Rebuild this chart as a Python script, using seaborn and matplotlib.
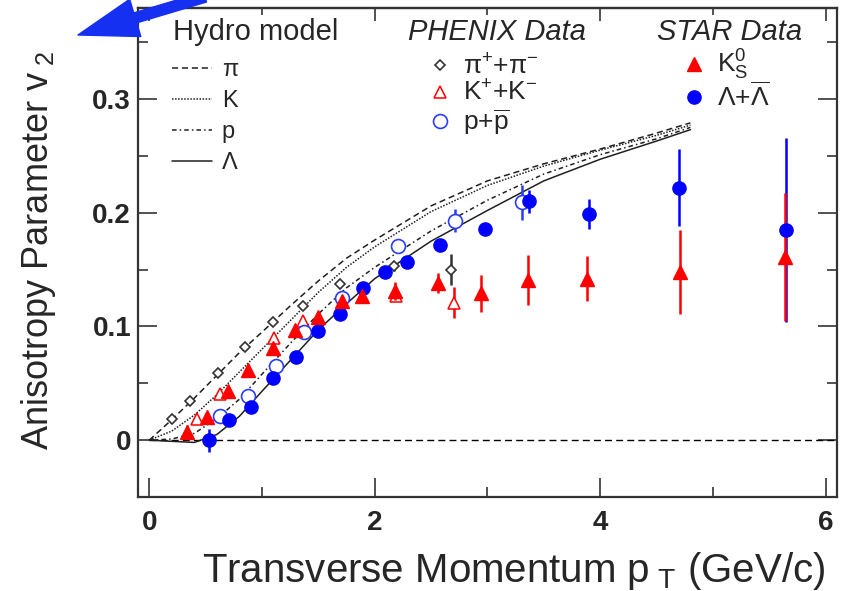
import matplotlib
matplotlib.use("Agg")
import matplotlib.pyplot as plt
import seaborn as sns
from matplotlib.lines import Line2D
from matplotlib.patches import FancyArrowPatch
from matplotlib.ticker import FixedLocator, FixedFormatter

# hydro model curves
pt_hydro = [0.0, 0.2, 0.4, 0.6, 0.8, 1.0, 1.25, 1.5, 1.75, 2.0, 2.5, 3.0, 3.5, 4.0, 4.5, 4.8]
hydro_pi = [0.000, 0.018, 0.037, 0.057, 0.077, 0.095, 0.118, 0.140, 0.160, 0.176, 0.206, 0.228, 0.243, 0.256, 0.270, 0.279]
hydro_k = [0.000, 0.008, 0.022, 0.040, 0.060, 0.080, 0.105, 0.130, 0.152, 0.170, 0.201, 0.224, 0.241, 0.255, 0.268, 0.277]
hydro_p = [0.000, 0.001, 0.006, 0.019, 0.036, 0.058, 0.085, 0.111, 0.134, 0.152, 0.184, 0.211, 0.234, 0.251, 0.265, 0.275]
hydro_lam = [0.000, -0.001, -0.002, 0.005, 0.021, 0.043, 0.070, 0.097, 0.120, 0.142, 0.175, 0.202, 0.228, 0.247, 0.263, 0.273]

# PHENIX data
pt_pi = [0.20, 0.36, 0.61, 0.85, 1.10, 1.36, 1.69, 2.17, 2.68]
v2_pi = [0.019, 0.034, 0.059, 0.082, 0.104, 0.118, 0.137, 0.153, 0.150]
err_pi = [0.002, 0.002, 0.002, 0.002, 0.002, 0.002, 0.003, 0.004, 0.014]

pt_k = [0.42, 0.63, 1.11, 1.36, 2.19, 2.70]
v2_k = [0.019, 0.041, 0.090, 0.105, 0.127, 0.121]
err_k = [0.002, 0.002, 0.003, 0.003, 0.005, 0.014]

pt_p = [0.625, 0.88, 1.12, 1.37, 1.71, 2.21, 2.71, 3.31]
v2_p = [0.021, 0.039, 0.065, 0.095, 0.125, 0.171, 0.193, 0.209]
err_p = [0.002, 0.002, 0.003, 0.003, 0.004, 0.005, 0.010, 0.015]

# STAR data
pt_k0s = [0.335, 0.515, 0.70, 0.88, 1.10, 1.29, 1.50, 1.71, 1.89, 2.18, 2.56, 2.94, 3.36, 3.88, 4.71, 5.64]
v2_k0s = [0.007, 0.020, 0.043, 0.062, 0.081, 0.097, 0.108, 0.122, 0.127, 0.131, 0.138, 0.129, 0.141, 0.142, 0.148, 0.161]
err_k0s = [0.006, 0.003, 0.003, 0.003, 0.003, 0.003, 0.004, 0.004, 0.004, 0.008, 0.009, 0.016, 0.022, 0.020, 0.037, 0.056]

pt_lam = [0.53, 0.71, 0.905, 1.10, 1.30, 1.50, 1.69, 1.90, 2.09, 2.29, 2.575, 2.98, 3.37, 3.90, 4.70, 5.65]
v2_lam = [0.000, 0.018, 0.029, 0.055, 0.073, 0.096, 0.111, 0.134, 0.148, 0.157, 0.172, 0.186, 0.210, 0.199, 0.222, 0.185]
err_lam = [0.010, 0.003, 0.003, 0.003, 0.003, 0.003, 0.003, 0.003, 0.003, 0.004, 0.004, 0.005, 0.010, 0.013, 0.034, 0.081]

x_ticks = [0, 2, 4, 6]
x_tick_labels = ["0", "2", "4", "6"]
y_ticks = [0.0, 0.1, 0.2, 0.3]
y_tick_labels = ["0", "0.1", "0.2", "0.3"]

sns.set_theme(style="ticks")
plt.rcParams["font.family"] = ["Liberation Sans", "DejaVu Sans"]
plt.rcParams["mathtext.fontset"] = "custom"
plt.rcParams["mathtext.rm"] = "Liberation Sans"
plt.rcParams["mathtext.it"] = "Liberation Sans:italic"
plt.rcParams["mathtext.bf"] = "Liberation Sans:bold"

fig = plt.figure(figsize=(8.48, 5.91), dpi=100)
ax = fig.add_axes([0.1627, 0.159, 0.8243, 0.8275])

# hydro curves
hydro_styles = [
    (hydro_pi, (0, (4, 2.5))),
    (hydro_k, (0, (1, 1))),
    (hydro_p, (0, (3, 2, 1, 2))),
    (hydro_lam, "-"),
]
for vals, ls in hydro_styles:
    sns.lineplot(x=pt_hydro, y=vals, ax=ax, color="#202020", linewidth=1.1,
                 linestyle=ls, sort=False, estimator=None)

ax.hlines(0, 0, 6.1, colors="black", linestyles=(0, (5, 3)), linewidth=1.0, zorder=1)

# PHENIX (open markers)
ax.errorbar(pt_pi, v2_pi, yerr=err_pi, fmt="D", ms=5.5, mfc="white", mec="#333333",
            mew=1.2, color="#333333", elinewidth=1.8, capsize=0, zorder=3)
ax.errorbar(pt_k, v2_k, yerr=err_k, fmt="^", ms=9, mfc="white", mec="red",
            mew=1.1, color="red", elinewidth=1.8, capsize=0, zorder=3)
ax.errorbar(pt_p, v2_p, yerr=err_p, fmt="o", ms=10, mfc="white", mec="#2a3cf5",
            mew=1.2, color="#2a3cf5", elinewidth=1.8, capsize=0, zorder=3)

# STAR (filled markers)
ax.errorbar(pt_lam, v2_lam, yerr=err_lam, fmt="o", ms=9.5, color="blue",
            elinewidth=1.8, capsize=0, zorder=4)
ax.errorbar(pt_k0s, v2_k0s, yerr=err_k0s, fmt="^", ms=9.5, color="red",
            elinewidth=1.8, capsize=0, zorder=4)

ax.set_xlim(-0.1, 6.1)
ax.set_ylim(-0.05, 0.38)

ax.xaxis.set_major_locator(FixedLocator(x_ticks))
ax.xaxis.set_major_formatter(FixedFormatter(x_tick_labels))
ax.xaxis.set_minor_locator(FixedLocator([1, 3, 5]))
ax.yaxis.set_major_locator(FixedLocator(y_ticks))
ax.yaxis.set_major_formatter(FixedFormatter(y_tick_labels))
ax.yaxis.set_minor_locator(FixedLocator([0.05, 0.15, 0.25, 0.35]))

ax.tick_params(axis="both", which="both", direction="in", width=1.2, color="#333333",
               bottom=True, left=True, right=True, top=False)
ax.tick_params(axis="both", which="major", length=14)
ax.tick_params(axis="both", which="minor", length=7)
ax.tick_params(axis="x", which="major", pad=9, labelsize=20)
ax.tick_params(axis="y", which="major", pad=5, labelsize=20)
for lab in ax.get_xticklabels() + ax.get_yticklabels():
    lab.set_fontweight("bold")

top = ax.secondary_xaxis("top")
top.xaxis.set_major_locator(FixedLocator(x_ticks))
top.xaxis.set_minor_locator(FixedLocator([1, 3, 5]))
top.tick_params(which="both", direction="in", width=1.2, color="#333333", labeltop=False)
top.tick_params(which="major", length=9)
top.tick_params(which="minor", length=5)

for sp in ax.spines.values():
    sp.set_linewidth(1.6)
    sp.set_color("#333333")
top.spines["top"].set_linewidth(1.6)
top.spines["top"].set_color("#333333")

ax.set_xlabel("Transverse Momentum p$_{\\ \\mathrm{T}}$ (GeV/c)", fontsize=29, ha="right")
ax.xaxis.set_label_coords(0.983, -0.109)
ax.set_ylabel("Anisotropy Parameter v$_{\\ 2}$", fontsize=26)
ax.yaxis.set_label_coords(-0.115, 0.505)

# legend block titles
ax.text(0.050, 0.951, "Hydro model", transform=ax.transAxes, fontsize=21, va="center", ha="left")
ax.text(0.386, 0.951, "PHENIX Data", transform=ax.transAxes, fontsize=21, va="center", ha="left", style="italic")
ax.text(0.7425, 0.951, "STAR Data", transform=ax.transAxes, fontsize=21, va="center", ha="left", style="italic")

hydro_handles = [Line2D([], [], color="#202020", lw=1.1, linestyle=ls) for _, ls in hydro_styles]
leg1 = ax.legend(hydro_handles, ["π", "K", "p", "Λ"], loc="upper left",
                 bbox_to_anchor=(0.049, 0.895), frameon=False, fontsize=17,
                 handlelength=1.7, handletextpad=0.4, labelspacing=0.38,
                 borderpad=0, borderaxespad=0)
ax.add_artist(leg1)

phenix_handles = [
    Line2D([], [], marker="D", ms=5.5, mfc="white", mec="#333333", mew=1.2, ls="none"),
    Line2D([], [], marker="^", ms=9, mfc="white", mec="red", mew=1.1, ls="none"),
    Line2D([], [], marker="o", ms=10, mfc="white", mec="#2a3cf5", mew=1.2, ls="none"),
]
leg2 = ax.legend(phenix_handles, ["π$^{+}$+π$^{-}$", "K$^{+}$+K$^{-}$", "p+$\\overline{\\mathrm{p}}$"],
                 loc="upper left", bbox_to_anchor=(0.412, 0.906), frameon=False,
                 fontsize=19, handlelength=1.1, handletextpad=0.3, labelspacing=0.05,
                 borderpad=0, borderaxespad=0)
ax.add_artist(leg2)

star_handles = [
    Line2D([], [], marker="^", ms=9.5, color="red", ls="none"),
    Line2D([], [], marker="o", ms=9.5, color="blue", ls="none"),
]
ax.legend(star_handles, ["K$_{\\mathrm{S}}^{0}$", "Λ+$\\overline{\\Lambda}$"],
          loc="upper left", bbox_to_anchor=(0.775, 0.918), frameon=False,
          fontsize=19, handlelength=1.1, handletextpad=0.3, labelspacing=0.0,
          borderpad=0, borderaxespad=0)

# blue arrow at the top left corner
arrow = FancyArrowPatch((205 / 848, 1 + 3 / 591), (78 / 848, 1 - 35 / 591),
                        transform=fig.transFigure,
                        arrowstyle="simple,head_length=4.3,head_width=2.8,tail_width=0.75",
                        mutation_scale=10, color="#1530f0", shrinkA=0, shrinkB=0)
fig.add_artist(arrow)

fig.savefig("out.png", dpi=100)
